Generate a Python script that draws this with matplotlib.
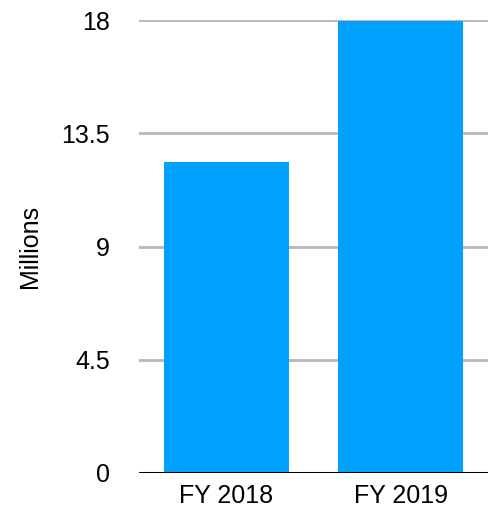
import matplotlib.pyplot as plt

categories = ["FY 2018", "FY 2019"]
values = [12.35, 17.97]
yticks = [0, 4.5, 9, 13.5, 18]
ytick_labels = ["0", "4.5", "9", "13.5", "18"]

plt.rcParams['font.family'] = ['Liberation Sans', 'DejaVu Sans']

fig = plt.figure(figsize=(4.88, 5.15), dpi=100)
ax = fig.add_axes([0.285, 0.0816, 0.715, 0.8795])

x = range(len(categories))
ax.bar(x, values, width=0.715, color='#00a2ff', zorder=3)

ax.set_xlim(-0.5, 1.5)
ax.set_ylim(0, 18)
ax.set_yticks(yticks)
ax.set_yticklabels(ytick_labels)
ax.set_xticks(list(x))
ax.set_xticklabels(categories)

ax.grid(axis='y', color='#b8b8b8', linewidth=2, zorder=0)
ax.axhline(0, color='black', linewidth=2.2, zorder=4)
for s in ax.spines.values():
    s.set_visible(False)
ax.tick_params(axis='y', length=0, pad=21, labelsize=18)
ax.tick_params(axis='x', length=0, pad=8, labelsize=18)
ax.set_ylabel("Millions", fontsize=18, labelpad=14)

fig.savefig("out.png", dpi=100)
